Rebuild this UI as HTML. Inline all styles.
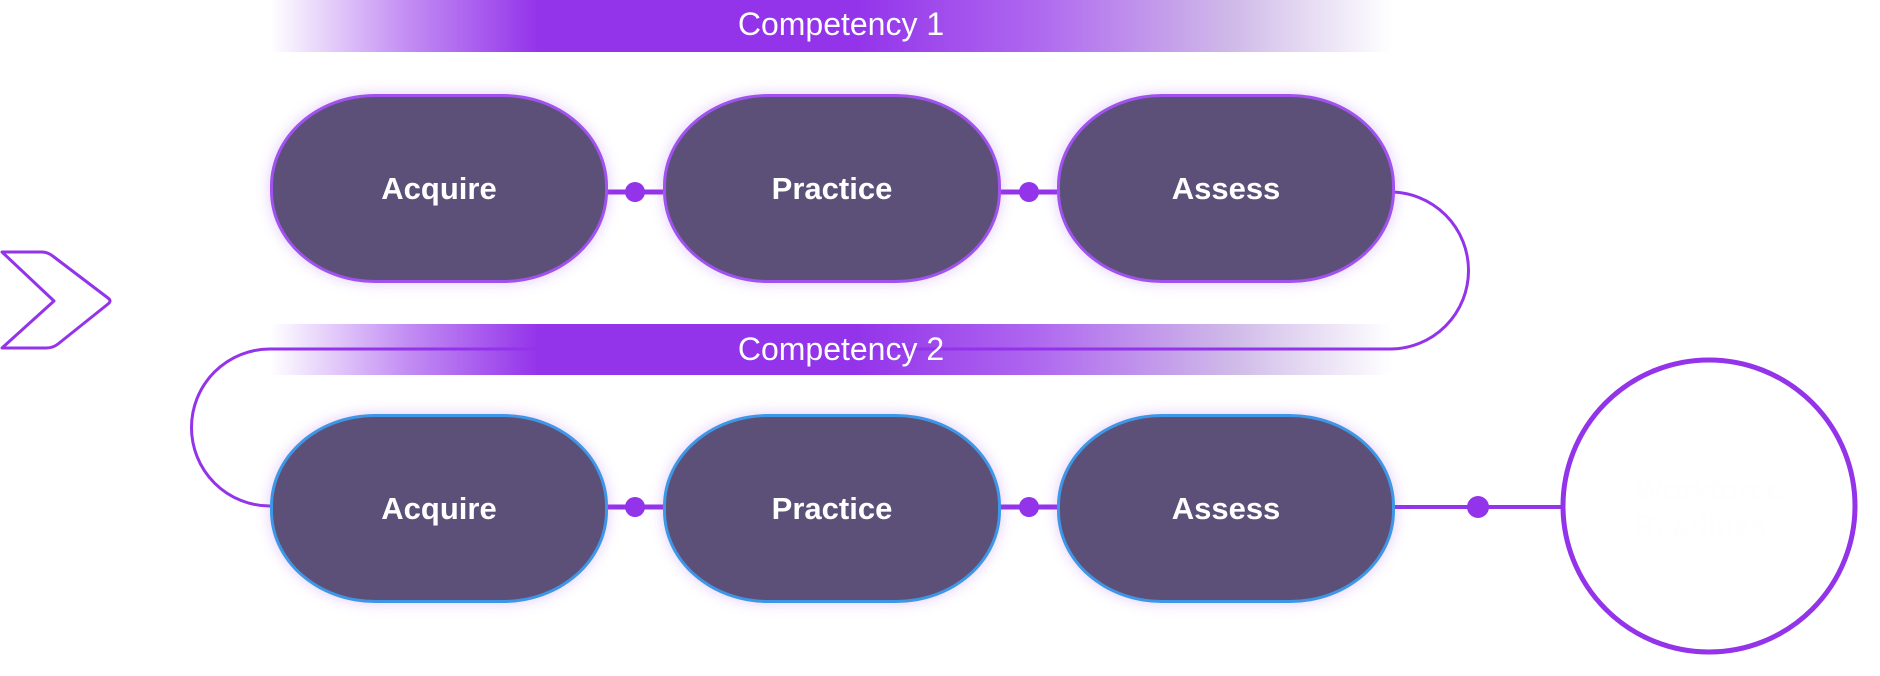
<!DOCTYPE html>
<html><head><meta charset="utf-8"><style>
html,body{margin:0;padding:0;background:#fff;}
body{width:1880px;height:676px;position:relative;overflow:hidden;font-family:"Liberation Sans",sans-serif;}
.band{position:absolute;left:270px;width:1122px;background:linear-gradient(90deg,rgba(147,51,234,0) 0%,rgba(147,51,234,0.55) 12%,#9333ea 24%,#9333ea 52%,rgba(147,51,234,0.75) 68%,rgba(120,60,190,0.35) 86%,rgba(120,60,190,0) 100%);}
.lbl{position:absolute;left:270px;width:1122px;color:#fff;font-size:32px;text-align:center;padding-left:20px;box-sizing:border-box;z-index:3;}
.pill{position:absolute;width:332px;height:183px;border-radius:105px/92px;background:#5c5079;border:3px solid #a052ee;box-shadow:0 0 14px rgba(160,82,238,0.3);color:#fff;font-weight:bold;font-size:31px;display:flex;align-items:center;justify-content:center;z-index:2;}
.pill.b{border-color:#3d97e6;}
svg{z-index:1;}
</style></head><body>
<div class="band" style="top:0;height:52px;"></div>
<div class="band" style="top:324px;height:51px;"></div>
<div class="lbl" style="top:6px;">Competency 1</div>
<div class="lbl" style="top:331px;">Competency 2</div>
<svg width="1880" height="676" style="position:absolute;left:0;top:0">
<path d="M1393 192 H1390 A78 78 0 0 1 1390 349 H270 A78 78 0 0 0 270 506" fill="none" stroke="#9333ea" stroke-width="3"/>
<line x1="606" y1="192" x2="663" y2="192" stroke="#9333ea" stroke-width="5"/>
<line x1="1000" y1="192" x2="1057" y2="192" stroke="#9333ea" stroke-width="5"/>
<line x1="606" y1="507" x2="663" y2="507" stroke="#9333ea" stroke-width="5"/>
<line x1="1000" y1="507" x2="1057" y2="507" stroke="#9333ea" stroke-width="5"/>
<line x1="1393" y1="507" x2="1563" y2="507" stroke="#9333ea" stroke-width="4"/>
<circle cx="635" cy="192" r="10" fill="#9333ea"/>
<circle cx="1029" cy="192" r="10" fill="#9333ea"/>
<circle cx="635" cy="507" r="10" fill="#9333ea"/>
<circle cx="1029" cy="507" r="10" fill="#9333ea"/>
<circle cx="1478" cy="507" r="11" fill="#9333ea"/>
<circle cx="1709" cy="506" r="146" fill="#fff" stroke="#9333ea" stroke-width="5"/>
<text x="1709" y="500" fill="#fefefe" font-size="30" font-weight="bold" text-anchor="middle" font-family="Liberation Sans">Workforce</text>
<text x="1709" y="536" fill="#fefefe" font-size="30" font-weight="bold" text-anchor="middle" font-family="Liberation Sans">Readiness</text>
<path d="M2 252 H42 Q48 252 54 257 L108 298 Q112 301 108 304 L58 344 Q53 348 46 348 H2 L54 301 Z" fill="none" stroke="#9333ea" stroke-width="3" stroke-linejoin="round"/>
</svg>
<div class="pill" style="left:270px;top:94px;">Acquire</div>
<div class="pill" style="left:663px;top:94px;">Practice</div>
<div class="pill" style="left:1057px;top:94px;">Assess</div>
<div class="pill b" style="left:270px;top:414px;">Acquire</div>
<div class="pill b" style="left:663px;top:414px;">Practice</div>
<div class="pill b" style="left:1057px;top:414px;">Assess</div>
</body></html>
